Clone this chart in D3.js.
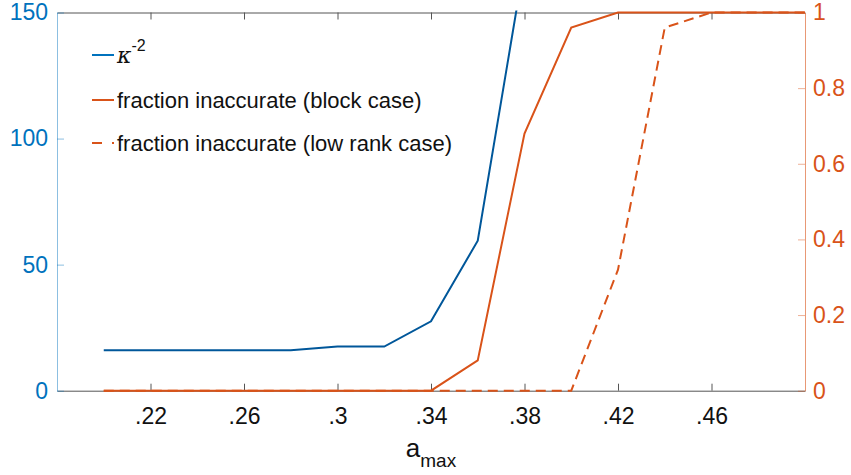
<!DOCTYPE html>
<html>
<head>
<meta charset="utf-8">
<script src="https://cdn.jsdelivr.net/npm/d3@7"></script>
<style>
body { margin: 0; background: #fff; }
text { font-family: "Liberation Sans", Arial, sans-serif; }
</style>
</head>
<body>
<div id="chart"></div>
<script>
var width = 851;
var height = 475;

// data
var aMax = [0.20, 0.22, 0.24, 0.26, 0.28, 0.30, 0.32, 0.34, 0.36, 0.38, 0.40, 0.42, 0.44, 0.46, 0.48, 0.50];
var kappa = [16, 16, 16, 16, 16, 17.5, 17.5, 27.5, 59.5, 170];
var fracBlock = [0, 0, 0, 0, 0, 0, 0, 0, 0.08, 0.68, 0.96, 1, 1, 1, 1, 1];
var fracLowRank = [0, 0, 0, 0, 0, 0, 0, 0, 0, 0, 0, 0.32, 0.96, 1, 1, 1];
var xTicks = [0.22, 0.26, 0.30, 0.34, 0.38, 0.42, 0.46];
var leftTicks = [0, 50, 100, 150];
var rightTicks = [0, 0.2, 0.4, 0.6, 0.8, 1];

var blue = "#0072BD";
var blueLine = "#00579a";
var orange = "#D95319";

var plotL = 57, plotR = 805, plotT = 12.5, plotB = 390.7;

var xScale = d3.scaleLinear().domain([0.18, 0.5]).range([plotL, plotR]);
var yLeft = d3.scaleLinear().domain([0, 150]).range([plotB, plotT]);
var yRight = d3.scaleLinear().domain([0, 1]).range([plotB, plotT]);

var svg = d3.select("#chart")
    .append("svg")
    .attr("width", width)
    .attr("height", height);

svg.append("clipPath").attr("id", "plotclip")
    .append("rect")
    .attr("x", plotL).attr("y", plotT - 2)
    .attr("width", plotR - plotL).attr("height", plotB - plotT + 4);

// bottom and top x axes
var xAxis = d3.axisBottom(xScale).tickValues(xTicks).tickSize(-7).tickSizeOuter(0)
    .tickFormat(function(d) { return d3.format(".2f")(d).replace(/^0/, "").replace(/0$/, ""); });
var gx = svg.append("g")
    .attr("transform", "translate(0," + plotB + ")")
    .call(xAxis);
gx.select(".domain").attr("stroke", "#555");
gx.selectAll(".tick line").attr("stroke", "#555");
gx.selectAll(".tick text")
    .attr("fill", "#111")
    .attr("font-size", 23)
    .attr("y", 17)
    .attr("dy", "0.71em");

var gxTop = svg.append("g")
    .attr("transform", "translate(0," + plotT + ")")
    .call(d3.axisTop(xScale).tickValues(xTicks).tickSize(-7).tickSizeOuter(0).tickFormat(""));
gxTop.select(".domain").attr("stroke", "#555");
gxTop.selectAll(".tick line").attr("stroke", "#555");

// left y axis
var gyl = svg.append("g")
    .attr("transform", "translate(" + plotL + ",0)")
    .call(d3.axisLeft(yLeft).tickValues(leftTicks).tickSize(-7).tickSizeOuter(0));
gyl.select(".domain").attr("stroke", blue).attr("stroke-opacity", 0.45);
gyl.selectAll(".tick line").attr("stroke", blue).attr("stroke-opacity", 0.45);
gyl.selectAll(".tick text")
    .attr("fill", blue)
    .attr("font-size", 23)
    .attr("x", -9);

// right y axis
var gyr = svg.append("g")
    .attr("transform", "translate(" + plotR + ",0)")
    .call(d3.axisRight(yRight).tickValues(rightTicks).tickSize(-7).tickSizeOuter(0)
        .tickFormat(function(d) { return String(+d.toFixed(1)); }));
gyr.select(".domain").attr("stroke", orange).attr("stroke-opacity", 0.6);
gyr.selectAll(".tick line").attr("stroke", orange).attr("stroke-opacity", 0.45);
gyr.selectAll(".tick text")
    .attr("fill", orange)
    .attr("font-size", 23)
    .attr("x", 8);

// x label
var xl = svg.append("text")
    .attr("x", (plotL + plotR) / 2)
    .attr("y", 457)
    .attr("text-anchor", "middle")
    .attr("font-size", 26)
    .attr("fill", "#111");
xl.append("tspan").text("a");
xl.append("tspan").attr("font-size", 19).attr("dy", 10).text("max");

// lines
var plotG = svg.append("g").attr("clip-path", "url(#plotclip)");

var lineLeft = d3.line()
    .x(function(d, i) { return xScale(aMax[i]); })
    .y(function(d) { return yLeft(d); });
var lineRight = d3.line()
    .x(function(d, i) { return xScale(aMax[i]); })
    .y(function(d) { return yRight(d); });

plotG.append("path")
    .datum(kappa)
    .attr("d", lineLeft)
    .attr("fill", "none")
    .attr("stroke", blueLine)
    .attr("stroke-width", 2);

plotG.append("path")
    .datum(fracBlock)
    .attr("d", lineRight)
    .attr("fill", "none")
    .attr("stroke", orange)
    .attr("stroke-width", 2);

plotG.append("path")
    .datum(fracLowRank)
    .attr("d", lineRight)
    .attr("fill", "none")
    .attr("stroke", orange)
    .attr("stroke-width", 2)
    .attr("stroke-dasharray", "10,6");

// legend
var legendItems = [
    { color: blue, dash: null, y: 55 },
    { color: orange, dash: null, y: 100 },
    { color: orange, dash: "10,10", y: 143 }
];
var legend = svg.append("g");
legend.selectAll("line")
    .data(legendItems)
    .enter()
    .append("line")
    .attr("x1", 92).attr("x2", 114)
    .attr("y1", function(d) { return d.y; })
    .attr("y2", function(d) { return d.y; })
    .attr("stroke", function(d) { return d.color; })
    .attr("stroke-width", 2)
    .attr("stroke-dasharray", function(d) { return d.dash; });

var k = legend.append("text")
    .attr("x", 117).attr("y", 63)
    .attr("font-size", 22)
    .attr("fill", "#111");
k.append("tspan").attr("font-family", "DejaVu Serif, serif").attr("font-style", "italic").text("\u03BA");
k.append("tspan").attr("font-size", 16).attr("dy", -12).text("-2");

legend.append("text")
    .attr("x", 117).attr("y", 108)
    .attr("font-size", 22)
    .attr("fill", "#111")
    .text("fraction inaccurate (block case)");
legend.append("text")
    .attr("x", 117).attr("y", 151)
    .attr("font-size", 22)
    .attr("fill", "#111")
    .text("fraction inaccurate (low rank case)");
</script>
</body>
</html>
